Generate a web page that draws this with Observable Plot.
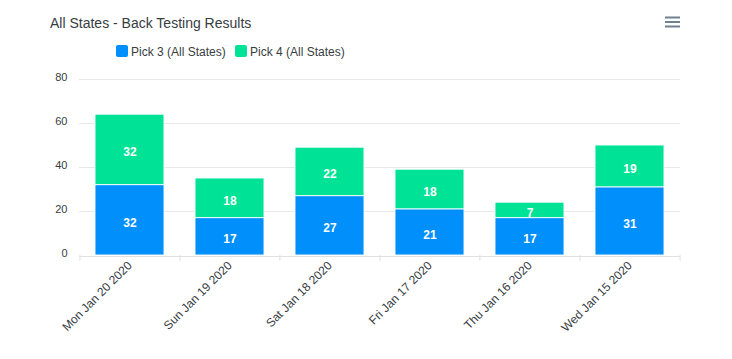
<!DOCTYPE html>
<html>
<head>
<meta charset="utf-8">
<script src="https://cdn.jsdelivr.net/npm/d3@7"></script>
<script src="https://cdn.jsdelivr.net/npm/@observablehq/plot@0.6"></script>
<style>
  html, body { margin: 0; padding: 0; background: #fff; }
  body { font-family: "Liberation Sans", Arial, Helvetica, sans-serif; color: #373d3f; }
  #wrap { position: relative; width: 732px; height: 359px; overflow: hidden; }
  #header { position: relative; width: 732px; height: 66px; }
  .title { position: absolute; left: 50px; top: 16px; font-size: 14px; line-height: 1; white-space: nowrap; }
  .lg-sw { position: absolute; top: 45px; width: 12px; height: 12px; border-radius: 2px; }
  .lg-tx { position: absolute; top: 46px; font-size: 12px; line-height: 1; white-space: nowrap; }
  #menu { position: absolute; left: 664px; top: 14px; }
  #chart svg { display: block; }
</style>
</head>
<body>
<div id="wrap">
  <div id="header"></div>
  <div id="chart"></div>
</div>
<script>
const title = "All States - Back Testing Results";
const dates = ["Mon Jan 20 2020", "Sun Jan 19 2020", "Sat Jan 18 2020", "Fri Jan 17 2020", "Thu Jan 16 2020", "Wed Jan 15 2020"];
const seriesNames = ["Pick 3 (All States)", "Pick 4 (All States)"];
const pick3 = [32, 17, 27, 21, 17, 31];
const pick4 = [32, 18, 22, 18, 7, 19];
const colors = ["#008FFB", "#00E396"];
const yTicks = [0, 20, 40, 60, 80];

// header: title, legend, menu icon
const header = document.getElementById("header");
const t = document.createElement("div");
t.className = "title"; t.textContent = title; header.appendChild(t);
const legendX = [[116, 131], [235, 250]];
seriesNames.forEach((name, i) => {
  const sw = document.createElement("div");
  sw.className = "lg-sw"; sw.style.left = legendX[i][0] + "px"; sw.style.background = colors[i];
  header.appendChild(sw);
  const tx = document.createElement("div");
  tx.className = "lg-tx"; tx.style.left = legendX[i][1] + "px"; tx.textContent = name;
  header.appendChild(tx);
});
header.insertAdjacentHTML("beforeend",
  '<svg id="menu" width="18" height="16" viewBox="0 0 18 16"><g stroke="#6E8192" stroke-width="2"><line x1="1" x2="16" y1="3.5" y2="3.5"/><line x1="1" x2="16" y1="8" y2="8"/><line x1="1" x2="16" y1="12.5" y2="12.5"/></g></svg>');

// data rows
const rows = [];
[pick3, pick4].forEach((vals, s) => {
  vals.forEach((v, i) => rows.push({date: dates[i], series: seriesNames[s], value: v}));
});

const W = 732, H = 293, mL = 79, mR = 52, mT = 13, mB = 104;
const step = (W - mL - mR) / dates.length;

const chart = Plot.plot({
  width: W, height: H,
  marginTop: mT, marginBottom: mB, marginLeft: mL, marginRight: mR,
  style: {fontFamily: "'Liberation Sans', Arial, Helvetica, sans-serif", fontSize: "11px", color: "#373d3f", background: "#fff"},
  x: {domain: dates, paddingInner: 0.31, paddingOuter: 0.155, label: null},
  y: {domain: [0, 80], label: null},
  color: {domain: seriesNames, range: colors},
  marks: [
    Plot.ruleY(yTicks.slice(1), {stroke: "#e8e8e8", strokeWidth: 1}),
    Plot.barY(rows, {x: "date", y: "value", fill: "series", stroke: "#fff", strokeWidth: 1, strokeOpacity: 0.9}),
    Plot.text(rows, Plot.stackY({x: "date", y: "value", text: "value", fill: "#fff", fontWeight: "bold", fontSize: 12, dy: 2.5})),
    Plot.ruleY([0], {stroke: "#e0e0e0", strokeWidth: 1, dy: 1}),
    Plot.ruleX(dates, {x: d => d, dx: -step / 2, y1: 0, y2: -2.7, stroke: "#e0e0e0"}),
    Plot.ruleX(dates.slice(-1), {x: d => d, dx: step / 2, y1: 0, y2: -2.7, stroke: "#e0e0e0"}),
    Plot.axisY(yTicks, {tickSize: 0, tickPadding: 12, fontSize: 11, dy: -2, fill: "#373d3f"}),
    Plot.axisX({tickSize: 0, tickRotate: -45, tickPadding: 8, fontSize: 12, fill: "#373d3f"})
  ]
});
document.getElementById("chart").appendChild(chart);
</script>
</body>
</html>
